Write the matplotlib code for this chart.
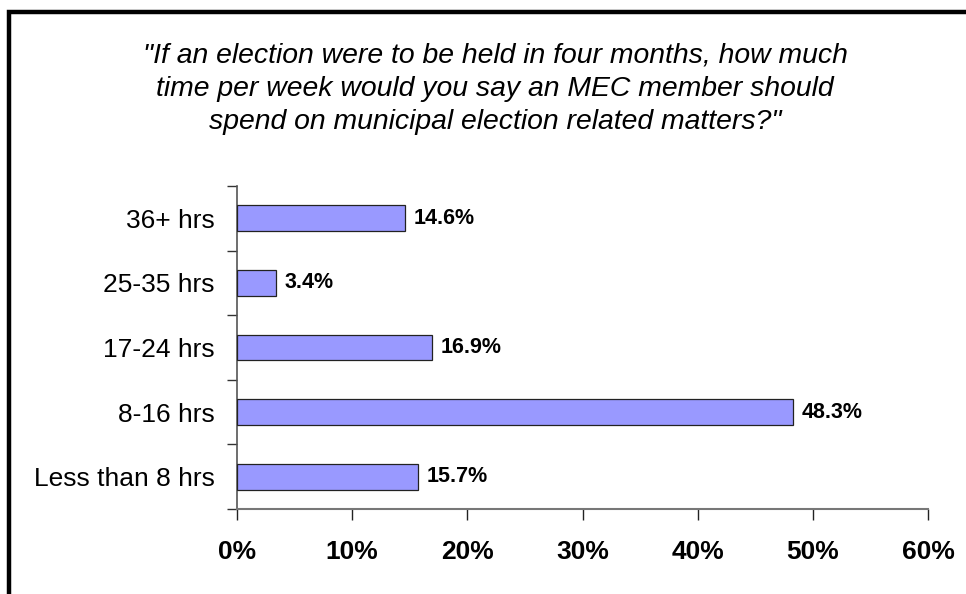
import matplotlib.pyplot as plt
from matplotlib.patches import Rectangle
from matplotlib.ticker import FuncFormatter, FixedLocator

categories = ['Less than 8 hrs', '8-16 hrs', '17-24 hrs', '25-35 hrs', '36+ hrs']
values = [15.7, 48.3, 16.9, 3.4, 14.6]
xticks = [0, 10, 20, 30, 40, 50, 60]
title = ('"If an election were to be held in four months, how much\n'
         'time per week would you say an MEC member should\n'
         'spend on municipal election related matters?"')

plt.rcParams['font.family'] = ['Liberation Sans', 'DejaVu Sans']

fig = plt.figure(figsize=(9.66, 5.94), dpi=100)
ax = fig.add_axes([237 / 966, 1 - 509 / 594, (928 - 237) / 966, (509 - 186) / 594])

pos = range(len(categories))
ax.barh(pos, values, height=0.4, color='#9999ff', edgecolor='#222222', linewidth=0.9, zorder=3)
for p, v in zip(pos, values):
    ax.text(v + 0.75, p, f'{v:.1f}%', va='center', ha='left',
            fontsize=15.5, fontweight='bold')

ax.set_xlim(0, 60)
ax.set_ylim(-0.5, len(categories) - 0.5)
ax.set_xticks(xticks)
ax.xaxis.set_major_formatter(FuncFormatter(lambda x, _: f'{x:.0f}%'))
ax.set_yticks(list(pos))
ax.set_yticklabels(categories, fontsize=19)
ax.yaxis.set_minor_locator(FixedLocator([p - 0.5 for p in range(len(categories) + 1)]))

ax.tick_params(axis='y', which='major', length=0, pad=16)
ax.tick_params(axis='y', which='minor', length=7, width=1, color='#333333', direction='out')
ax.tick_params(axis='x', length=8, width=1, color='#222222', direction='out', pad=14)
for lbl in ax.get_xticklabels():
    lbl.set_fontsize(19)
    lbl.set_fontweight('bold')

for side in ['top', 'right']:
    ax.spines[side].set_visible(False)
ax.spines['left'].set_color('#555555')
ax.spines['bottom'].set_color('#777777')
ax.spines['left'].set_linewidth(1.2)
ax.spines['bottom'].set_linewidth(1.5)

# question title, anchored on the baseline of its last line
fig.text(495 / 966, 1 - 129 / 594, title, ha='center', va='baseline',
         fontsize=20.4, style='italic', linespacing=1.36)

# outer chart frame, clipped by the right and bottom edges
fig.patches.append(Rectangle((9 / 966, -0.2), 1.2, 1 - 12.5 / 594 + 0.2,
                             transform=fig.transFigure, fill=False,
                             edgecolor='black', linewidth=3.2))

fig.savefig('out.png', dpi=100)
